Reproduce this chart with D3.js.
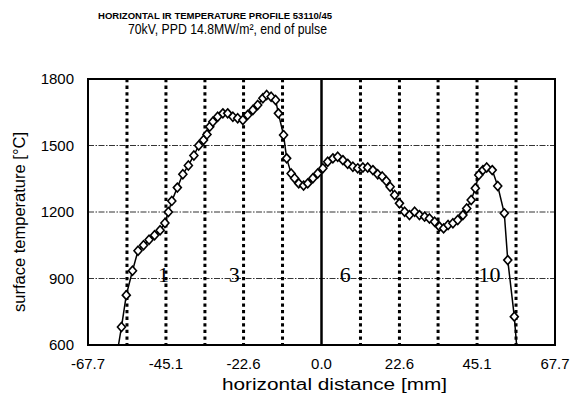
<!DOCTYPE html>
<html>
<head>
<meta charset="utf-8">
<script src="https://cdn.jsdelivr.net/npm/d3@7"></script>
<style>
  body { margin: 0; background: #fff; }
  svg { display: block; font-family: "Liberation Sans", Arial, sans-serif; }
</style>
</head>
<body>
<svg width="570" height="396"></svg>
<script>
// horizontal position [mm] and surface temperature [°C]
var distance = [-59.6, -58.0, -56.6, -54.8, -53.2, -51.6, -50.0, -48.4, -46.8, -45.4,
  -44.4, -43.4, -41.8, -40.2, -38.6, -37.0, -35.6, -34.2, -33.2, -32.4,
  -31.5, -30.1, -28.6, -27.2, -25.7, -24.3, -22.8, -21.4, -19.9, -18.5,
  -17.0, -15.9, -14.6, -13.3, -12.5, -11.0, -10.1, -8.8, -7.8, -6.6,
  -5.2, -4.0, -2.5, -1.1, 0.4, 1.8, 3.3, 4.7, 6.2, 7.6,
  9.1, 10.5, 12.0, 13.4, 14.9, 16.3, 17.6, 18.8, 19.9, 21.2,
  22.6, 24.1, 25.5, 27.0, 28.4, 29.9, 31.3, 32.8, 34.2, 35.4,
  36.7, 38.1, 39.5, 41.0, 42.1, 43.4, 44.6, 45.6, 46.8, 47.9,
  49.5, 51.1, 53.0, 54.0, 55.9, 57.5];
var temperature = [530, 681, 825, 935, 1025, 1050, 1075, 1095, 1118, 1150,
  1200, 1250, 1310, 1370, 1410, 1455, 1500, 1525, 1550, 1585,
  1607, 1630, 1645, 1645, 1630, 1623, 1615, 1638, 1660, 1683,
  1713, 1728, 1720, 1705, 1645, 1547, 1442, 1374, 1352, 1329,
  1319, 1329, 1352, 1374, 1397, 1427, 1442, 1449, 1434, 1417,
  1404, 1397, 1401, 1401, 1389, 1370, 1360, 1340, 1314, 1277,
  1239, 1201, 1186, 1201, 1186, 1179, 1171, 1156, 1134, 1126,
  1141, 1149, 1164, 1186, 1216, 1254, 1307, 1367, 1389, 1401,
  1389, 1317, 1194, 983, 728, 420];

var xTicks = [-67.7, -45.1, -22.6, 0.0, 22.6, 45.1, 67.7];
var xGrid = [-56.4, -45.1, -33.8, -22.6, -11.3, 11.3, 22.6, 33.8, 45.1, 56.4];
var yTicks = [600, 900, 1200, 1500, 1800];
var yGrid = [900, 1200, 1500];

// numbered markers written on the chart
var noteText = ["1", "3", "6", "10"];
var noteX = [-45.8, -25.3, 6.9, 48.7];
var noteY = 882;

var points = distance.map(function(d, i) { return {x: d, y: temperature[i]}; });

var svg = d3.select("svg"),
    plotLeft = 88, plotRight = 555, plotTop = 79, plotBottom = 345;

var x = d3.scaleLinear().domain([-67.7, 67.7]).range([plotLeft, plotRight]);
var y = d3.scaleLinear().domain([600, 1800]).range([plotBottom, plotTop]);

// titles
svg.append("text")
    .attr("x", 98).attr("y", 19)
    .attr("textLength", 234).attr("lengthAdjust", "spacingAndGlyphs")
    .style("font-size", "9.5px").style("font-weight", "bold")
    .text("HORIZONTAL IR TEMPERATURE PROFILE 53110/45");
svg.append("text")
    .attr("x", 128).attr("y", 34)
    .attr("textLength", 199).attr("lengthAdjust", "spacingAndGlyphs")
    .style("font-size", "14.5px")
    .text("70kV, PPD 14.8MW/m², end of pulse");

svg.append("clipPath").attr("id", "plot")
  .append("rect")
    .attr("x", plotLeft).attr("y", plotTop)
    .attr("width", plotRight - plotLeft).attr("height", plotBottom - plotTop);

// horizontal grid
svg.selectAll(".hgrid")
  .data(yGrid)
  .enter().append("line")
    .attr("x1", plotLeft).attr("x2", plotRight)
    .attr("y1", function(d) { return y(d); })
    .attr("y2", function(d) { return y(d); })
    .style("stroke", "#333")
    .style("stroke-width", 1)
    .style("stroke-dasharray", "6,1.5,1.5,1.5");

// vertical dotted grid
svg.selectAll(".vgrid")
  .data(xGrid)
  .enter().append("line")
    .attr("x1", function(d) { return x(d); })
    .attr("x2", function(d) { return x(d); })
    .attr("y1", plotTop).attr("y2", plotBottom)
    .style("stroke", "#000")
    .style("stroke-width", 3)
    .style("stroke-dasharray", "3.3,3.3");

// zero line
svg.append("line")
    .attr("x1", x(0)).attr("x2", x(0))
    .attr("y1", plotTop).attr("y2", plotBottom)
    .style("stroke", "#000").style("stroke-width", 2.5);

// notes
svg.selectAll(".note")
  .data(noteText)
  .enter().append("text")
    .attr("x", function(d, i) { return x(noteX[i]); })
    .attr("y", y(noteY))
    .attr("text-anchor", "middle")
    .style("font-family", "'Liberation Serif', 'Times New Roman', serif")
    .style("font-size", "22px")
    .text(function(d) { return d; });

var g = svg.append("g").attr("clip-path", "url(#plot)");

g.append("path")
    .datum(points)
    .attr("d", d3.line().x(function(d) { return x(d.x); }).y(function(d) { return y(d.y); }))
    .style("fill", "none")
    .style("stroke", "#000")
    .style("stroke-width", 1.5);

g.selectAll(".pt")
  .data(points)
  .enter().append("path")
    .attr("transform", function(d) { return "translate(" + x(d.x) + "," + y(d.y) + ")"; })
    .attr("d", "M0,-4.5L4,0L0,4.5L-4,0Z")
    .style("fill", "#fff")
    .style("stroke", "#000")
    .style("stroke-width", 1.6);

// frame
svg.append("rect")
    .attr("x", plotLeft).attr("y", plotTop)
    .attr("width", plotRight - plotLeft).attr("height", plotBottom - plotTop)
    .style("fill", "none")
    .style("stroke", "#000")
    .style("stroke-width", 2);

// tick labels
svg.selectAll(".ylab")
  .data(yTicks)
  .enter().append("text")
    .attr("x", 74)
    .attr("y", function(d) { return y(d); })
    .attr("dy", "0.35em")
    .attr("text-anchor", "end")
    .style("font-size", "15px")
    .text(function(d) { return d; });

svg.selectAll(".xlab")
  .data(xTicks)
  .enter().append("text")
    .attr("x", function(d) { return x(d); })
    .attr("y", 369)
    .attr("text-anchor", "middle")
    .style("font-size", "15px")
    .text(function(d) { return d.toFixed(1); });

// axis titles
svg.append("text")
    .attr("x", 222).attr("y", 390)
    .attr("textLength", 225).attr("lengthAdjust", "spacingAndGlyphs")
    .style("font-size", "16px")
    .text("horizontal distance [mm]");

svg.append("text")
    .attr("transform", "translate(25,312) rotate(-90)")
    .attr("textLength", 180).attr("lengthAdjust", "spacingAndGlyphs")
    .style("font-size", "16.5px")
    .text("surface temperature [°C]");
</script>
</body>
</html>
